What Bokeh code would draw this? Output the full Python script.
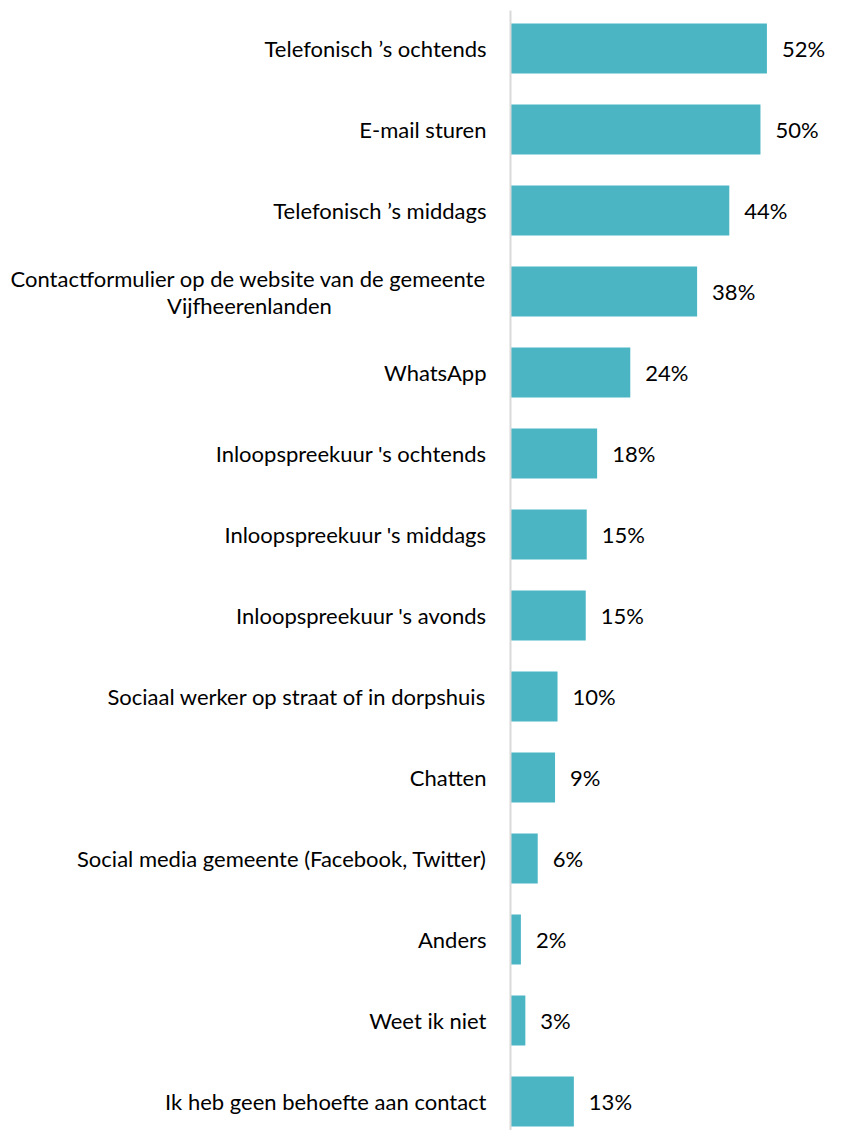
from bokeh.plotting import figure
from bokeh.models import Range1d, ColumnDataSource
from bokeh.core.properties import value
from bokeh.embed import file_html
from bokeh.resources import INLINE

categories = [
    "Telefonisch \u2019s ochtends",
    "E-mail sturen",
    "Telefonisch \u2019s middags",
    "Contactformulier op de website van de gemeente\nVijfheerenlanden",
    "WhatsApp",
    "Inloopspreekuur 's ochtends",
    "Inloopspreekuur 's middags",
    "Inloopspreekuur 's avonds",
    "Sociaal werker op straat of in dorpshuis",
    "Chatten",
    "Social media gemeente (Facebook, Twitter)",
    "Anders",
    "Weet ik niet",
    "Ik heb geen behoefte aan contact",
]
values = [51.8, 50.5, 44.2, 37.7, 24.2, 17.5, 15.4, 15.2, 9.5, 9.0, 5.5, 2.1, 3.0, 12.8]
value_labels = ["52%", "50%", "44%", "38%", "24%", "18%", "15%", "15%", "10%", "9%", "6%", "2%", "3%", "13%"]

FONT = "Lato"
FSIZE = "22px"
BAR = "#4BB5C4"
AXIS = "#D9D9D9"

W, H = 831, 1130
px_per_unit = 4.95
axis_px = 510
row_px = 81.0
top_px = 48

pos = list(range(len(categories)))
first_lines = [c.split("\n")[0] for c in categories]
second_lines = [c.split("\n")[1] if "\n" in c else "" for c in categories]

src = ColumnDataSource(dict(y=pos, v=values, lab=value_labels))

y_top = -top_px / row_px
y_bottom = (H - top_px) / row_px

p = figure(width=W, height=H, output_backend="svg", toolbar_location=None,
           x_range=Range1d(-axis_px / px_per_unit, (W - axis_px) / px_per_unit),
           y_range=Range1d(y_bottom, y_top),
           min_border=0, min_border_left=0, min_border_right=0, min_border_top=0, min_border_bottom=0)
p.axis.visible = False
p.grid.visible = False
p.outline_line_color = None
p.background_fill_color = "white"
p.border_fill_color = "white"

p.hbar(y="y", right="v", left=0, height=50 / row_px, source=src, fill_color=BAR, line_color=None)

# vertical category axis line
p.segment(x0=[0], y0=[y_top + 10 / row_px], x1=[0], y1=[y_bottom], line_color=AXIS, line_width=2)

# value labels
p.text(x="v", y="y", text="lab", source=src, x_offset=15, text_align="left", text_baseline="middle",
       text_font=value(FONT), text_font_size=FSIZE, text_color="#000000")

# category labels
single_idx = [i for i, c in enumerate(categories) if "\n" not in c]
single = ColumnDataSource(dict(y=single_idx, t=[categories[i] for i in single_idx]))
p.text(x=0, y="y", text="t", source=single, x_offset=-24, text_align="right", text_baseline="middle",
       text_font=value(FONT), text_font_size=FSIZE, text_color="#000000")

multi_idx = [i for i, c in enumerate(categories) if "\n" in c]
multi = ColumnDataSource(dict(y=multi_idx, t1=[first_lines[i] for i in multi_idx],
                              t2=[second_lines[i] for i in multi_idx]))
p.text(x=0, y="y", text="t1", source=multi, x_offset=-24, y_offset=-13, text_align="right",
       text_baseline="middle", text_font=value(FONT), text_font_size=FSIZE, text_color="#000000")
p.text(x=0, y="y", text="t2", source=multi, x_offset=-261, y_offset=14, text_align="center",
       text_baseline="middle", text_font=value(FONT), text_font_size=FSIZE, text_color="#000000")

open("out.html", "w").write(file_html(p, INLINE))
